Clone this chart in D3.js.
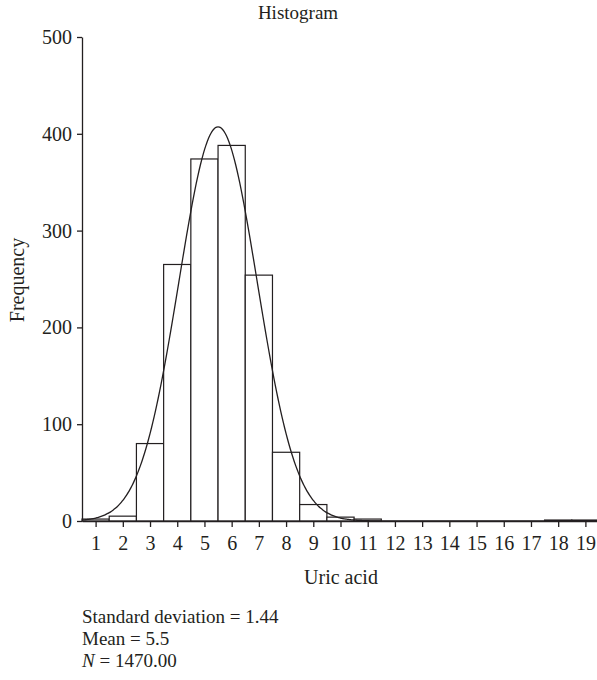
<!DOCTYPE html>
<html><head><meta charset="utf-8">
<script src="https://cdn.jsdelivr.net/npm/d3@7"></script>
<style>body{margin:0;background:#fff}svg{display:block}text{font-family:"Liberation Serif","Times New Roman",serif;fill:#231f20}</style>
</head><body>
<svg id="c" width="597" height="680"></svg>
<script>
const bins = [1,2,3,4,5,6,7,8,9,10,11,12,13,14,15,16,17,18,19];
const counts = [2,5,80,265,374,388,254,71,17,4,2,0,0,0,0,0,0,1,1];
const yTicks = [0,100,200,300,400,500];
const stats = {sd:1.44, mean:5.5, n:1470};
const title = "Histogram", xLabel = "Uric acid", yLabel = "Frequency";

const svg = d3.select("#c");
const x = d3.scaleLinear().domain([0.5,19.5]).range([82,599]);
const y = d3.scaleLinear().domain([0,500]).range([521,37]);
const ink = "#231f20";

// bars
svg.append("g").selectAll("rect").data(bins.map((b,i)=>({b,c:counts[i]})).filter(d=>d.c>0))
 .join("rect")
 .attr("x",d=>x(d.b-0.5)).attr("width",d=>x(d.b+0.5)-x(d.b-0.5))
 .attr("y",d=>y(d.c)).attr("height",d=>y(0)-y(d.c))
 .attr("fill","#fff").attr("stroke",ink).attr("stroke-width",1.2);

// normal fit curve from stated mean / sd / N
const pts = d3.range(0.5,19.5001,0.05).map(v=>[v, stats.n/(stats.sd*Math.sqrt(2*Math.PI))*Math.exp(-0.5*((v-stats.mean)/stats.sd)**2)]);
svg.append("path").datum(pts).attr("fill","none").attr("stroke",ink).attr("stroke-width",1.3)
 .attr("d",d3.line().x(d=>x(d[0])).y(d=>y(d[1])).curve(d3.curveBasis));

// axes
const ya = svg.append("g").attr("transform","translate(82,0)")
 .call(d3.axisLeft(y).tickValues(yTicks).tickSize(5).tickSizeOuter(0).tickPadding(5));
const xa = svg.append("g").attr("transform","translate(0,521)")
 .call(d3.axisBottom(x).tickValues(bins).tickSize(6).tickSizeOuter(0).tickPadding(9));
[ya,xa].forEach(a=>{a.selectAll("path,line").attr("stroke",ink).attr("stroke-width",1.3);
 a.selectAll("text").style("font-size","20px").style("font-family",'"Liberation Serif",serif').attr("fill",ink);});

svg.append("text").attr("x",298).attr("y",19).attr("text-anchor","middle").style("font-size","19px").text(title);
svg.append("text").attr("x",341).attr("y",584).attr("text-anchor","middle").style("font-size","20px").text(xLabel);
svg.append("text").attr("transform","translate(24,280) rotate(-90)").attr("text-anchor","middle").style("font-size","20px").text(yLabel);

const st = svg.append("g").style("font-size","19px");
st.append("text").attr("x",82).attr("y",623).text("Standard deviation = "+stats.sd.toFixed(2));
st.append("text").attr("x",82).attr("y",645).text("Mean = "+stats.mean.toFixed(1));
const t3 = st.append("text").attr("x",82).attr("y",667);
t3.append("tspan").style("font-style","italic").text("N");
t3.append("tspan").text(" = "+stats.n.toFixed(2));
</script>
</body></html>
